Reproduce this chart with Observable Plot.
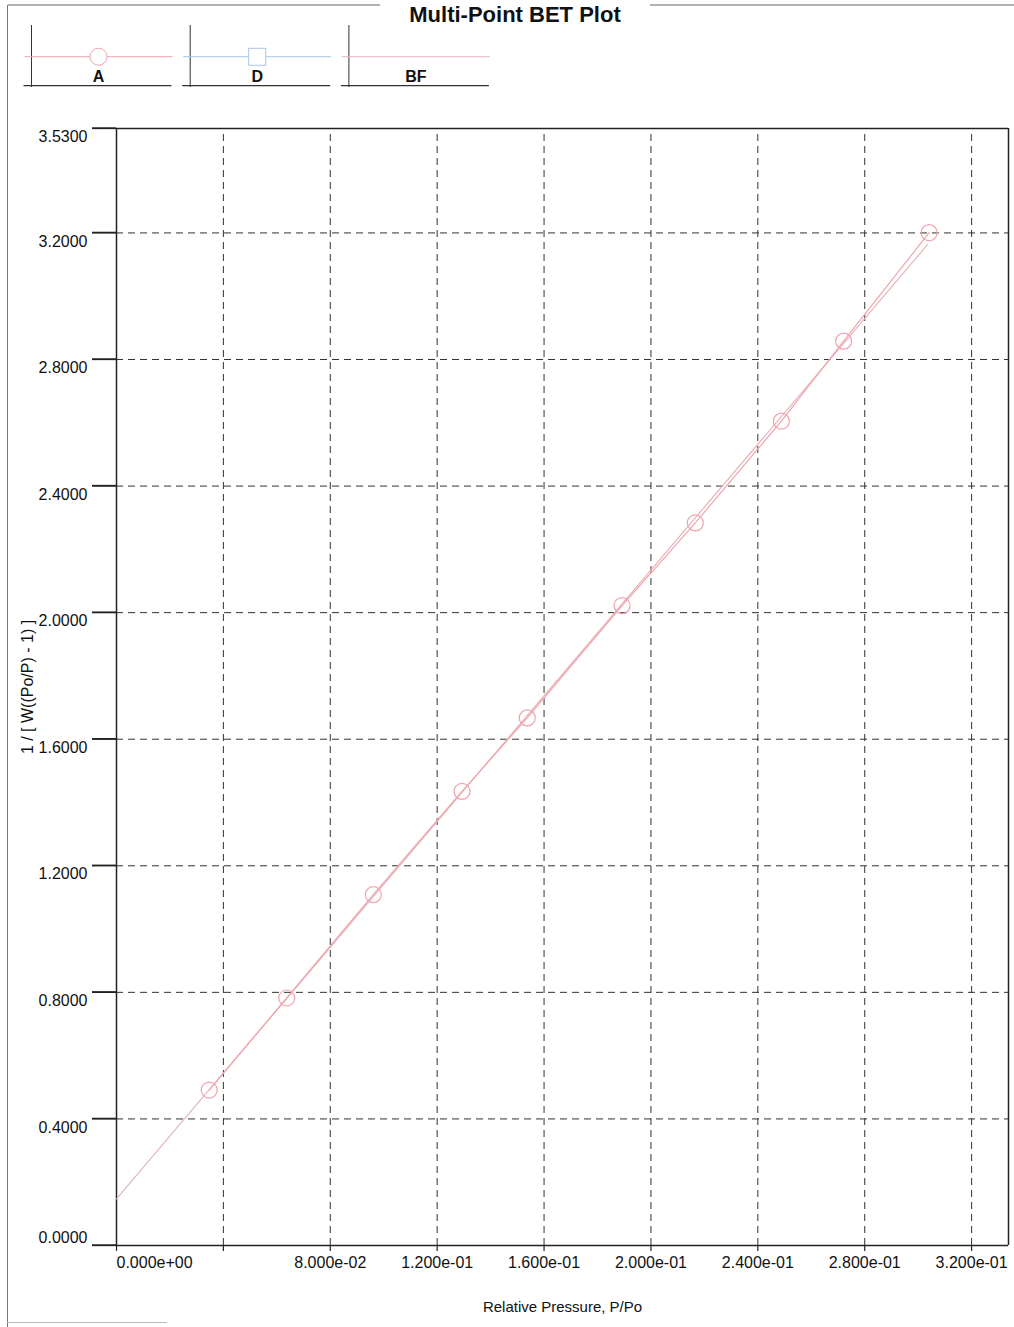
<!DOCTYPE html>
<html>
<head>
<meta charset="utf-8">
<script src="https://cdn.jsdelivr.net/npm/d3@7"></script>
<script src="https://cdn.jsdelivr.net/npm/@observablehq/plot@0.6"></script>
<style>
  html, body { margin: 0; padding: 0; background: #fff; }
  #page { position: relative; width: 1014px; height: 1327px; background: #fff; overflow: hidden; font-family: "Liberation Sans", Arial, sans-serif; }
  #header { display: block; }
  #chart svg { display: block; }
  #overlay { position: absolute; left: 0; top: 100px; pointer-events: none; }
  #leftborder { position: absolute; left: 7px; top: 5px; width: 1px; height: 1322px; background: #777; }
  #bottomline { position: absolute; left: 7px; top: 1322px; width: 160px; height: 1px; background: #bbb; }
</style>
</head>
<body>
<div id="page">
  <svg id="header" width="1014" height="100"></svg>
  <div id="chart"></div>
  <svg id="overlay" width="1014" height="1227"></svg>
  <div id="leftborder"></div>
  <div id="bottomline"></div>
</div>
<script>
// ---- data ----
const relPressure = [0.0347, 0.0637, 0.0961, 0.1293, 0.1537, 0.1892, 0.2166, 0.2488, 0.2721, 0.3041];
const betValue    = [0.4913, 0.7822, 1.1088, 1.4353, 1.6674, 2.0224, 2.2839, 2.6051, 2.8580, 3.2008];
const bfX = [0, 0.3035];
const bfY = [0.1476, 3.163];
const xTicks = [0, 0.04, 0.08, 0.12, 0.16, 0.20, 0.24, 0.28, 0.32];
const xLabelTicks = [0.08, 0.12, 0.16, 0.20, 0.24, 0.28, 0.32];
const yTicks = [0, 0.4, 0.8, 1.2, 1.6, 2.0, 2.4, 2.8, 3.2, 3.53];
const xGrid = [0.04, 0.08, 0.12, 0.16, 0.20, 0.24, 0.28, 0.32];
const yGrid = [0.4, 0.8, 1.2, 1.6, 2.0, 2.4, 2.8, 3.2];
const xMax = 0.3338;
const yMax = 3.53;
const legendNames = ["A", "D", "BF"];
const legendColors = ["#f0a3ad", "#a8c6e6", "#e6b4bb"];
const legendSymbols = ["circle", "square", "none"];
const titleText = "Multi-Point BET Plot";
const xTitle = "Relative Pressure, P/Po";
const yTitle = "1 / [ W((Po/P) - 1) ]";

const pts = relPressure.map((x, i) => ({x, y: betValue[i]}));
const bf = bfX.map((x, i) => ({x, y: bfY[i]}));

const fmtExp = v => {
  const [m, e] = v.toExponential(3).split("e");
  const sign = e[0] === "-" ? "-" : "+";
  return m + "e" + sign + String(Math.abs(+e)).padStart(2, "0");
};
const fmtY = d3.format(".4f");

// layout: the frame starts 24px left of the y axis so the outward ticks are inside it
const W = 1014, H = 1227, mL = 92, mR = 6, mT = 28, mB = 82;
const tickLenPx = 24;
const axisPx = W - mL - mR - tickLenPx;             // pixels from x=0 to x=xMax
const tickLenData = tickLenPx * xMax / axisPx;      // tick length in x-data units

// ---- header: title + legend ----
const hdr = d3.select("#header");
hdr.append("line").attr("x1", 8).attr("x2", 380).attr("y1", 5).attr("y2", 5).attr("stroke", "#666");
hdr.append("line").attr("x1", 650).attr("x2", 1014).attr("y1", 5).attr("y2", 5).attr("stroke", "#666");
hdr.append("text").attr("x", 515).attr("y", 22).attr("text-anchor", "middle")
  .attr("font-family", "Liberation Sans, Arial, sans-serif").attr("font-weight", "bold").attr("font-size", 22)
  .attr("fill", "#111").text(titleText);

legendNames.forEach((name, i) => {
  const x0 = 23.5 + i * 158.7;
  const g = hdr.append("g").attr("transform", `translate(${x0},0)`);
  g.append("line").attr("x1", 8).attr("x2", 8).attr("y1", 25).attr("y2", 87).attr("stroke", "#333");
  g.append("line").attr("x1", 1).attr("x2", 149).attr("y1", 56.7).attr("y2", 56.7).attr("stroke", legendColors[i]);
  g.append("line").attr("x1", 0).attr("x2", 148).attr("y1", 85.7).attr("y2", 85.7).attr("stroke", "#333").attr("stroke-width", 1.3);
  if (legendSymbols[i] === "circle") {
    g.append("circle").attr("cx", 75).attr("cy", 56.7).attr("r", 8.5).attr("fill", "#fff").attr("stroke", legendColors[i]);
  } else if (legendSymbols[i] === "square") {
    g.append("rect").attr("x", 66.5).attr("y", 48.3).attr("width", 17).attr("height", 17).attr("fill", "#fff").attr("stroke", legendColors[i]);
  }
  g.append("text").attr("x", 75).attr("y", 82).attr("text-anchor", "middle")
    .attr("font-family", "Liberation Sans, Arial, sans-serif").attr("font-weight", "bold")
    .attr("font-size", 16).attr("fill", "#111").text(name);
});

// ---- chart ----
const axisColor = "#222";
const chart = Plot.plot({
  width: W,
  height: H,
  marginTop: mT,
  marginBottom: mB,
  marginLeft: mL,
  marginRight: mR,
  style: {background: "#fff", fontFamily: "Liberation Sans, Arial, sans-serif", fontSize: "16px", color: "#111", overflow: "visible"},
  x: {domain: [-tickLenData, xMax], axis: null},
  y: {domain: [0, yMax], axis: null},
  marks: [
    Plot.ruleX(xGrid, {x: d => d, y1: 0, y2: yMax, stroke: "#333", strokeWidth: 1, strokeDasharray: "7,5"}),
    Plot.ruleY(yGrid, {y: d => d, x1: 0, x2: xMax, stroke: "#333", strokeWidth: 1, strokeDasharray: "7,5"}),
    Plot.ruleY(yTicks, {y: d => d, x1: -tickLenData, x2: 0, stroke: axisColor, strokeWidth: 1.3}),
    Plot.tickX(xTicks, {x: d => d, insetTop: H - mT - mB - 6, dy: 6, stroke: axisColor, strokeWidth: 1.2}),
    Plot.ruleX([0, xMax], {x: d => d, y1: 0, y2: yMax, stroke: axisColor, strokeWidth: 1.5}),
    Plot.ruleY([0, yMax], {y: d => d, x1: 0, x2: xMax, stroke: axisColor, strokeWidth: 1.5}),
    Plot.text(yTicks.filter(d => d !== 0), {y: d => d, text: d => fmtY(d), frameAnchor: "left", textAnchor: "end", lineAnchor: "middle", dx: -5, dy: 8.5, fill: "#111", fontSize: 16}),
    Plot.text([0], {y: d => d, text: d => fmtY(d), frameAnchor: "left", textAnchor: "end", lineAnchor: "middle", dx: -5, dy: -8, fill: "#111", fontSize: 16}),
    Plot.text([0], {x: d => d, text: d => fmtExp(d), frameAnchor: "bottom", textAnchor: "start", lineAnchor: "middle", dy: 17, fill: "#111", fontSize: 16}),
    Plot.text(xLabelTicks, {x: d => d, text: d => fmtExp(d), frameAnchor: "bottom", textAnchor: "middle", lineAnchor: "middle", dy: 17, fill: "#111", fontSize: 16}),
    Plot.text([xTitle], {x: xMax / 2, text: d => d, frameAnchor: "bottom", textAnchor: "middle", lineAnchor: "middle", dy: 62, fill: "#111", fontSize: 15}),
    Plot.text([yTitle], {y: yMax / 2, text: d => d, frameAnchor: "left", textAnchor: "middle", lineAnchor: "middle", rotate: -90, dx: -65, fill: "#111", fontSize: 16}),
    Plot.line(bf, {x: "x", y: "y", stroke: legendColors[2], strokeWidth: 1.2}),
    Plot.line(pts, {x: "x", y: "y", stroke: legendColors[0], strokeWidth: 1.2}),
    Plot.dot(pts, {x: "x", y: "y", r: 8, stroke: legendColors[0], fill: "none", strokeWidth: 1.2})
  ]
});
document.getElementById("chart").appendChild(chart);

// outward y ticks re-drawn on top using the chart's own scales
const xs = chart.scale("x"), ys = chart.scale("y");
const ov = d3.select("#overlay");
yTicks.forEach(v => {
  const py = ys.apply(v);
  ov.append("line").attr("x1", xs.apply(-tickLenData)).attr("x2", xs.apply(0))
    .attr("y1", py).attr("y2", py).attr("stroke", axisColor).attr("stroke-width", 1.4);
});
</script>
</body>
</html>
